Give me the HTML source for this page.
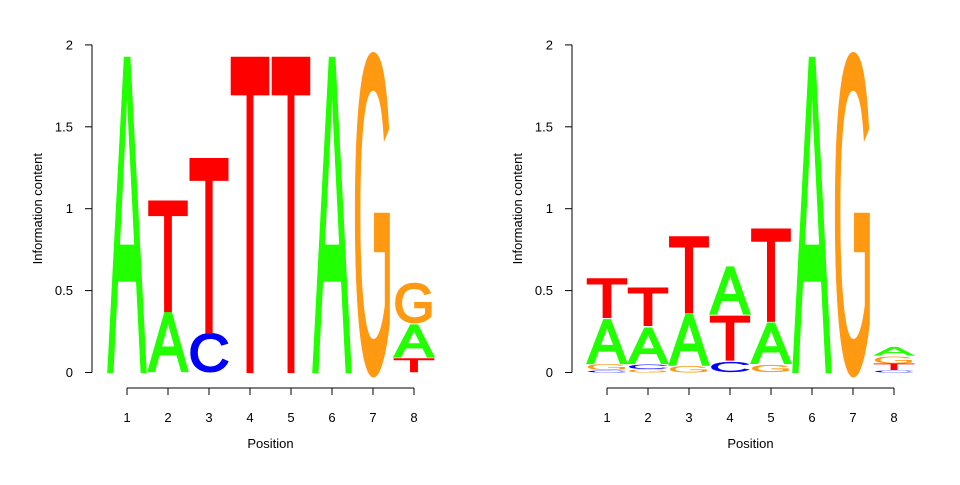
<!DOCTYPE html>
<html><head><meta charset="utf-8"><style>
body{margin:0;background:#fff}
svg text{font-family:"Liberation Sans",sans-serif}
</style></head><body>
<svg id="s" width="960" height="480" xmlns="http://www.w3.org/2000/svg"></svg>
<script>
const positions=[1,2,3,4,5,6,7,8];
const yTicks=[0,0.5,1,1.5,2];
const yTickLabels=["0","0.5","1","1.5","2"];
// stacks: [letter, height] bottom to top
const leftLogo=[
 [["A",1.93]],
 [["A",0.37],["T",0.68]],
 [["C",0.24],["T",1.07]],
 [["T",1.93]],
 [["T",1.93]],
 [["A",1.93]],
 [["G",1.93]],
 [["T",0.09],["A",0.21],["G",0.25]]
];
const rightLogo=[
 [["C",0.015],["G",0.035],["A",0.28],["T",0.25]],
 [["G",0.02],["C",0.03],["A",0.23],["T",0.24]],
 [["G",0.04],["A",0.32],["T",0.47]],
 [["C",0.07],["T",0.28],["A",0.30]],
 [["G",0.05],["A",0.26],["T",0.57]],
 [["A",1.93]],
 [["G",1.93]],
 [["C",0.015],["T",0.04],["G",0.045],["A",0.06]]
];
const colors={A:"#22FF00",C:"#0000FF",G:"#FF9912",T:"#FF0000"};
const NS="http://www.w3.org/2000/svg";
const svg=document.getElementById('s');
function mk(t,a,p){const e=document.createElementNS(NS,t);for(const k in a)e.setAttribute(k,a[k]);(p||svg).appendChild(e);return e;}
function panel(axX,x1,data,pname){
 const g=mk('g',{});
 
 
 const y0=372.5,ppu=163.8,step=41;
 const X=p=>x1+(p-1)*step, Y=v=>y0-v*ppu;
 const ya=mk('line',{x1:axX,x2:axX,y1:Y(0),y2:Y(2),stroke:"#000"},g);
 
 
 yTicks.forEach((t,i)=>{
  mk('line',{x1:axX-7,x2:axX,y1:Y(t),y2:Y(t),stroke:"#000"},g);
  const tx=mk('text',{x:axX-19,y:Y(t)+4.5,'font-size':13,'text-anchor':'end'},g);
  tx.textContent=yTickLabels[i];
  
  
 });
 const yt=mk('text',{x:0,y:0,'font-size':13,'text-anchor':'middle',transform:`translate(${axX-50},${Y(1)}) rotate(-90)`},g);
 yt.textContent="Information content";
 
 
 const xa=mk('line',{x1:X(1),x2:X(8),y1:388,y2:388,stroke:"#000"},g);
 
 
 positions.forEach(p=>{
  mk('line',{x1:X(p),x2:X(p),y1:388,y2:395,stroke:"#000"},g);
  const tx=mk('text',{x:X(p),y:422,'font-size':13,'text-anchor':'middle'},g);
  tx.textContent=String(p);
  
  
 });
 const xt=mk('text',{x:(X(1)+X(8))/2,y:448,'font-size':13,'text-anchor':'middle'},g);
 xt.textContent="Position";
 
 
 data.forEach((stack,i)=>{
  let base=0;const cx=X(positions[i]);
  stack.forEach(([L,h])=>{
   const hpFull=h*ppu;
   const sw=hpFull>20?3:(hpFull>8?1.5:0.3);
   const bot=Y(base)-sw/2,hp=Math.max(hpFull-sw,0.5),w=(L==="A"?42:44)-sw;
   const t=mk('text',{x:0,y:0,'font-size':100,'font-weight':'normal',fill:colors[L],
     stroke:colors[L],'stroke-width':sw,'vector-effect':'non-scaling-stroke','stroke-linejoin':'miter',
     textLength:w,lengthAdjust:'spacingAndGlyphs',
     transform:`translate(${cx-w/2},${bot}) scale(1,${hp/69})`},g);
   t.textContent=L;
   
   
   base+=h;
  });
 });
}
panel(92,127,leftLogo,'left-logo-panel');
panel(572,607,rightLogo,'right-logo-panel');
</script>
</body></html>
